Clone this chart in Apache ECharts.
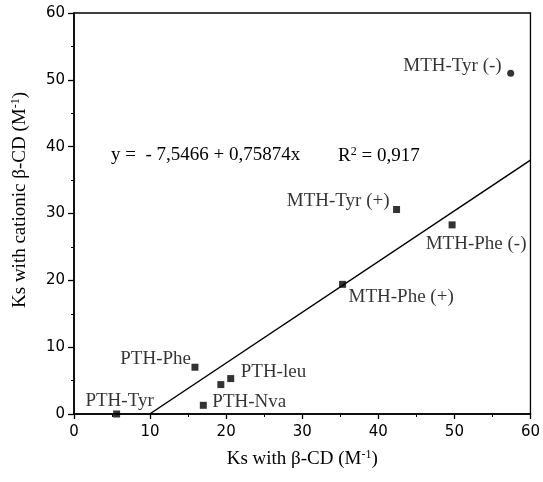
<!DOCTYPE html>
<html>
<head>
<meta charset="utf-8">
<script src="https://cdn.jsdelivr.net/npm/echarts@6/dist/echarts.min.js"></script>
<style>
html,body{margin:0;padding:0;background:#fff;}
#c{width:543px;height:482px;}
</style>
</head>
<body>
<div id="c"></div>
<script>
// ---- data ----
const pointNames = ['PTH-Tyr', 'PTH-Phe', '', 'PTH-Nva', 'PTH-leu', 'MTH-Phe (+)', 'MTH-Tyr (+)', 'MTH-Phe (-)', 'MTH-Tyr (-)'];
const ksBetaCD   = [5.6, 15.9, 19.3, 17.0, 20.6, 35.3, 42.4, 49.7, 57.4];
const ksCationic = [0.0, 7.0, 4.4, 1.3, 5.3, 19.4, 30.6, 28.3, 51.0];
const fitLineX = [9.95, 60];
const fitLineY = [0, 37.98];
const xTicks = [0, 10, 20, 30, 40, 50, 60];
const yTicks = [0, 10, 20, 30, 40, 50, 60];
const equationPart1 = 'y =  - 7,5466 + 0,75874x';
const equationPart2 = 'R{sup|2} = 0,917';
const xTitle = 'Ks with β-CD (M{sup|-1})';
const yTitle = 'Ks with cationic β-CD (M{sup|-1})';

// ---- styling / layout (kept apart from data) ----
const circleNames = ['MTH-Tyr (-)'];
const labelLayout = {
  'PTH-Tyr':     {align: 'center', dx: 3,   dy: -13},
  'PTH-Phe':     {align: 'right',  dx: -4,  dy: -8},
  'PTH-leu':     {align: 'left',   dx: 10,  dy: -7},
  'PTH-Nva':     {align: 'left',   dx: 9,   dy: -3},
  'MTH-Phe (+)': {align: 'left',   dx: 6,   dy: 13},
  'MTH-Tyr (+)': {align: 'right',  dx: -7,  dy: -8},
  'MTH-Phe (-)': {align: 'center', dx: 24,  dy: 19},
  'MTH-Tyr (-)': {align: 'right',  dx: -9,  dy: -7}
};
const serif = '"Liberation Serif", "Times New Roman", serif';
const sans = '"DejaVu Sans", sans-serif';
const FS = 19;
const supRich = {
  sup: {fontFamily: serif, fontSize: 12, fill: '#000', color: '#000', verticalAlign: 'top', padding: [0, 0, 9, 0]}
};

const pts = pointNames.map((n, i) => {
  const lay = labelLayout[n];
  const item = {
    name: n,
    value: [ksBetaCD[i], ksCationic[i]],
    symbol: circleNames.includes(n) ? 'circle' : 'rect'
  };
  if (lay) {
    item.label = {
      show: true,
      formatter: n,
      position: 'inside',
      align: lay.align,
      verticalAlign: 'middle',
      offset: [lay.dx, lay.dy],
      fontFamily: serif,
      fontSize: FS,
      color: '#000',
      textBorderWidth: 0
    };
  } else {
    item.label = {show: false};
  }
  return item;
});

const chart = echarts.init(document.getElementById('c'), null, {renderer: 'canvas'});
chart.setOption({
  animation: false,
  backgroundColor: '#fff',
  grid: {left: 74, right: 11, top: 13, bottom: 68, show: true, borderColor: '#000', borderWidth: 1.3, backgroundColor: 'transparent'},
  xAxis: {
    type: 'value', min: xTicks[0], max: xTicks[xTicks.length - 1], interval: xTicks[1] - xTicks[0],
    name: xTitle, nameLocation: 'middle', nameGap: 35,
    nameTextStyle: {fontFamily: serif, fontSize: FS, color: '#000', rich: supRich},
    axisLine: {show: true, onZero: false, lineStyle: {color: '#000', width: 1.6}},
    axisTick: {show: true, length: 5, lineStyle: {color: '#000', width: 1.3}},
    minorTick: {show: true, splitNumber: 2, length: 3, lineStyle: {color: '#000', width: 1}},
    splitLine: {show: false},
    axisLabel: {fontFamily: sans, fontSize: 15, color: '#000', margin: 11}
  },
  yAxis: {
    type: 'value', min: yTicks[0], max: yTicks[yTicks.length - 1], interval: yTicks[1] - yTicks[0],
    axisLine: {show: true, onZero: false, lineStyle: {color: '#000', width: 1.6}},
    axisTick: {show: true, length: 6, lineStyle: {color: '#000', width: 1.3}},
    minorTick: {show: true, splitNumber: 2, length: 3, lineStyle: {color: '#000', width: 1}},
    splitLine: {show: false},
    axisLabel: {fontFamily: sans, fontSize: 15, color: '#000', margin: 9}
  },
  series: [
    {
      type: 'line',
      data: fitLineX.map((x, i) => [x, fitLineY[i]]),
      symbol: 'none',
      lineStyle: {color: '#000', width: 1.5},
      z: 2
    },
    {
      type: 'scatter',
      data: pts,
      symbolSize: 7,
      itemStyle: {color: '#000'},
      z: 3
    }
  ],
  graphic: [
    {
      type: 'text', left: 111, top: 146,
      style: {text: equationPart1, fontFamily: serif, fontSize: FS, fill: '#000'}
    },
    {
      type: 'text', left: 338, top: 146,
      style: {text: equationPart2, fontFamily: serif, fontSize: FS, fill: '#000', rich: supRich}
    },
    {
      type: 'text', x: 20, y: 200, rotation: Math.PI / 2,
      style: {text: yTitle, fontFamily: serif, fontSize: FS, fill: '#000', align: 'center', verticalAlign: 'middle', rich: supRich}
    }
  ]
});
</script>
</body>
</html>
